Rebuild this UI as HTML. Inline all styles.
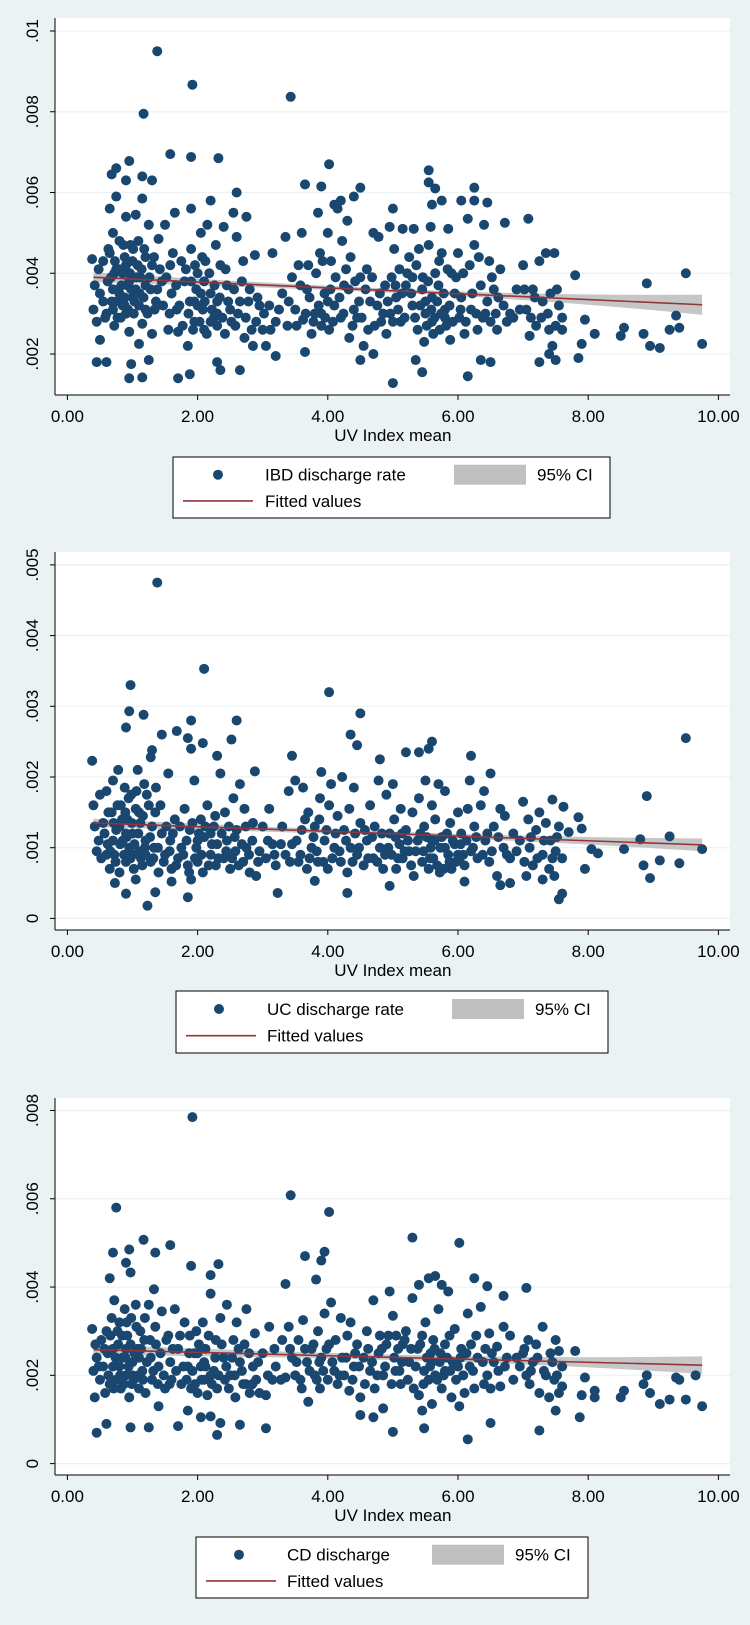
<!DOCTYPE html>
<html><head><meta charset="utf-8"><style>
html,body{margin:0;padding:0;background:#eaf2f3;}
svg{display:block;font-family:"Liberation Sans",Arial,sans-serif;}
</style></head><body>
<svg id="chart" width="750" height="1625" viewBox="0 0 750 1625" xmlns="http://www.w3.org/2000/svg">
<rect x="0" y="0" width="750" height="1625" fill="#eaf2f3"/>
</svg>
<script>
// ---- data (rates in units of 0.001) ----
const xTicks = [0,2,4,6,8,10];
const xTickLabels = ["0.00","2.00","4.00","6.00","8.00","10.00"];
const ibdTicks = [2,4,6,8,10];
const ibdTickLabels = [".002",".004",".006",".008",".01"];
const ucTicks = [0,1,2,3,4,5];
const ucTickLabels = ["0",".001",".002",".003",".004",".005"];
const cdTicks = [0,2,4,6,8];
const cdTickLabels = ["0",".002",".004",".006",".008"];
const ibdFit = [0.4,3.9,9.75,3.22];
const ucFit = [0.4,1.35,9.75,1.04];
const cdFit = [0.4,2.58,9.75,2.23];
const ibdCI = [0.12,0.05,0.25];
const ucCI = [0.06,0.03,0.09];
const cdCI = [0.12,0.06,0.2];

const ibdPoints = [[1.38,9.5],[1.92,8.67],[3.43,8.37],[1.17,7.95],[1.58,6.95],[1.9,6.88],[2.32,6.85],[0.95,6.78],[4.02,6.7],[0.75,6.6],[0.68,6.45],[1.15,6.4],[1.3,6.3],[0.9,6.3],[3.65,6.2],[3.9,6.15],[4.5,6.12],[5.55,6.55],[5.55,6.25],[5.65,6.1],[6.25,6.12],[2.6,6.0],[0.75,5.9],[1.15,5.85],[2.2,5.8],[4.1,5.7],[4.2,5.8],[4.4,5.9],[5.75,5.8],[6.05,5.8],[6.25,5.8],[6.45,5.75],[5.0,5.6],[5.6,5.7],[1.9,5.6],[0.65,5.6],
[0.45,1.8],[0.6,1.8],[0.95,1.4],[0.98,1.75],[1.15,1.42],[1.25,1.85],[1.7,1.4],[1.88,1.5],[2.3,1.8],[2.35,1.6],[2.65,1.6],[3.2,1.95],[3.65,2.05],[4.5,1.85],[5.0,1.28],[5.35,1.85],[5.45,1.55],[6.15,1.45],[6.35,1.85],[6.5,1.8],[7.25,1.8],[7.5,1.85],[7.85,1.9],[7.4,2.0],[4.7,2.0],
[7.8,3.95],[7.9,2.25],[7.95,2.85],[8.1,2.5],[8.5,2.45],[8.55,2.65],[8.85,2.5],[8.9,3.75],[8.95,2.2],[9.1,2.15],[9.25,2.6],[9.35,2.95],[9.4,2.65],[9.5,4.0],[9.75,2.25],[7.6,2.6],[7.45,2.2],
[0.38,4.35],[0.4,3.1],[0.45,2.8],[0.5,2.35],[0.5,3.5],[0.55,4.3],[0.6,3.0],[0.62,3.8],[0.65,4.5],[0.68,3.3],[0.7,5.0],[0.72,2.7],[0.75,4.1],[0.78,3.6],[0.8,4.8],[0.82,2.9],[0.85,3.2],[0.88,4.4],[0.9,5.4],[0.92,3.7],[0.95,2.55],[0.97,4.7],[1.0,3.4],[1.02,3.0],[1.05,5.45],[1.08,4.2],[1.1,2.25],[1.12,3.9],[1.15,2.75],[1.18,4.6],[1.2,3.1],[1.25,5.2],[1.28,3.6],[1.3,2.5],[1.33,4.4],[1.36,3.3],[1.4,4.85],[1.45,3.8],[1.5,5.2],[1.55,2.6],[1.58,4.2],[1.6,3.5],[1.65,5.5],[1.68,3.1],[1.7,2.55],[1.75,4.3],[1.8,3.8],[1.85,2.2],[1.88,3.3],[1.9,4.6],[1.95,2.8],[1.98,3.6],[2.0,4.0],[2.05,5.0],[2.08,3.1],[2.1,2.6],[2.12,4.3],[2.15,5.2],[2.2,3.5],[2.25,2.9],[2.28,4.7],[2.3,3.0],[2.35,4.2],[2.4,5.15],[2.42,2.5],[2.45,3.7],[2.5,3.1],[2.55,5.5],[2.58,2.7],[2.6,4.9],[2.65,3.3],[2.7,4.3],[2.72,2.4],[2.75,5.4],[2.8,3.6],[2.85,2.2],[2.88,4.45],[2.9,2.8],[2.95,3.2],[3.0,2.6],[3.05,2.2],[3.1,3.2],[3.15,4.5],[3.2,2.8],[3.3,3.5],[3.35,4.9],[3.38,2.7],[3.45,3.9],[3.5,3.1],[3.55,4.2],[3.6,5.0],[3.62,2.85],[3.68,3.6],[3.7,4.2],[3.75,2.5],[3.8,3.0],[3.85,5.5],[3.88,4.5],[3.9,2.7],[3.95,3.5],[4.0,5.0],[4.02,2.6],[4.05,4.3],[4.1,3.2],[4.15,5.6],[4.2,2.9],[4.22,4.8],[4.25,3.7],[4.3,5.3],[4.33,2.4],[4.35,4.4],[4.4,3.1],[4.45,2.9],[4.5,3.9],[4.55,2.2],[4.6,4.1],[4.65,3.3],[4.7,5.0],[4.72,2.7],[4.78,4.9],[4.8,3.5],[4.85,3.0],[4.9,2.5],[4.95,5.15],[4.98,3.9],[5.0,2.8],[5.02,4.6],[5.05,3.4],[5.1,4.1],[5.12,2.8],[5.15,5.1],[5.2,3.7],[5.25,4.4],[5.3,3.2],[5.32,5.1],[5.38,2.6],[5.4,4.6],[5.45,3.6],[5.48,2.3],[5.5,3.0],[5.55,4.7],[5.58,5.15],[5.6,3.4],[5.62,2.5],[5.65,4.0],[5.7,3.7],[5.72,2.6],[5.75,4.5],[5.8,3.1],[5.85,5.1],[5.88,2.35],[5.9,4.0],[5.95,3.5],[6.0,4.5],[6.02,2.9],[6.05,3.4],[6.1,2.5],[6.15,5.35],[6.18,4.2],[6.2,3.1],[6.25,4.7],[6.3,2.6],[6.35,3.7],[6.4,5.2],[6.42,3.0],[6.48,4.3],[6.5,2.8],[6.55,3.6],[6.6,2.6],[6.65,4.1],[6.7,3.2],[6.72,5.25],[6.8,3.0],[6.85,2.9],[6.9,3.6],[7.0,4.2],[7.05,3.1],[7.08,5.35],[7.1,2.45],[7.15,3.6],[7.2,2.7],[7.25,4.3],[7.3,3.3],[7.35,4.5],[7.4,2.6],[7.42,3.5],[7.48,4.5],[7.5,2.7],[7.55,3.2],[7.6,2.9],
[0.75,3.3],[0.8,3.5],[0.85,4.0],[0.9,3.0],[0.95,3.8],[1.0,4.3],[1.05,3.6],[1.1,3.2],[0.7,3.6],[0.72,4.0],[1.2,3.7],[0.88,3.2],[1.95,3.3],[2.05,3.5],[2.1,3.8],[2.2,2.8],[2.3,3.3],[5.5,3.3],[5.6,2.8],[5.8,2.9],[5.3,3.9],[4.0,3.3],[3.9,3.0],
[0.42,3.7],[0.48,4.1],[0.55,3.3],[0.58,2.9],[0.63,4.6],[0.67,3.9],[0.7,3.1],[0.73,4.3],[0.77,2.9],[0.8,4.1],[0.83,3.7],[0.86,4.7],[0.88,3.4],[0.9,4.2],[0.93,3.1],[0.96,4.0],[0.98,3.6],[1.01,4.6],[1.03,3.3],[1.06,3.9],[1.09,4.8],[1.11,3.5],[1.14,4.1],[1.17,3.4],[1.2,4.4],[1.23,3.0],[1.26,3.9],[1.3,4.2],[1.34,3.1],[1.38,3.6],[1.42,4.1],[1.47,3.2],[1.52,3.9],[1.57,3.0],[1.62,4.5],[1.67,3.7],[1.72,3.2],[1.77,2.7],[1.82,4.1],[1.86,3.0],[1.9,3.8],[1.93,2.6],[1.96,4.2],[2.0,3.2],[2.03,2.8],[2.07,4.4],[2.11,3.3],[2.14,2.5],[2.18,4.0],[2.22,3.1],[2.26,3.7],[2.3,2.7],[2.34,3.4],[2.38,2.9],[2.43,4.1],[2.47,3.3],[2.52,2.8],[2.56,3.6],[2.62,3.0],[2.68,3.8],[2.74,2.9],[2.78,3.3],[2.83,2.6],[2.92,3.4],[3.02,3.0],[3.12,2.6],[3.25,3.1],[3.4,3.3],[3.52,2.7],[3.58,3.7],[3.66,3.0],[3.72,3.4],[3.78,2.8],[3.82,4.0],[3.86,3.2],[3.92,4.3],[3.96,2.9],[4.04,3.6],[4.08,2.8],[4.12,3.9],[4.18,3.4],[4.24,3.0],[4.28,4.1],[4.32,3.6],[4.38,2.7],[4.42,3.8],[4.48,3.3],[4.52,2.9],[4.58,3.6],[4.62,2.6],[4.68,3.9],[4.76,3.2],[4.82,2.8],[4.88,3.7],[4.92,3.3],[4.96,3.0],[5.04,3.7],[5.08,3.1],[5.14,3.5],[5.18,2.9],[5.22,4.0],[5.28,3.5],[5.34,2.9],[5.36,4.2],[5.42,3.2],[5.46,3.9],[5.52,2.7],[5.54,3.8],[5.59,3.1],[5.64,2.9],[5.68,3.3],[5.71,4.3],[5.74,3.0],[5.78,3.5],[5.82,2.7],[5.84,4.1],[5.87,3.2],[5.92,2.8],[5.97,3.9],[6.04,3.1],[6.08,4.0],[6.12,2.8],[6.22,3.5],[6.28,3.0],[6.32,4.4],[6.38,2.9],[6.45,3.3],[6.52,3.9],[6.58,3.0],[6.62,3.4],[6.75,2.8],[6.95,3.1],[7.02,3.6],[7.12,2.9],[7.18,3.4],[7.28,2.9],[7.38,3.0],[7.52,3.6]];

const ucPoints = [[1.38,4.75],[2.1,3.53],[0.97,3.3],[4.02,3.2],[0.95,2.93],[1.17,2.88],[4.5,2.9],[0.9,2.7],[1.9,2.8],[2.6,2.8],[1.85,2.55],[2.08,2.48],[1.45,2.6],[1.68,2.65],[2.52,2.53],[4.35,2.6],[4.45,2.45],[5.6,2.5],[9.5,2.55],[1.3,2.38],[2.3,2.3],[3.45,2.3],[4.8,2.25],[5.2,2.35],[5.4,2.35],[5.55,2.4],[6.2,2.3],[1.9,2.4],[1.28,2.28],[0.38,2.23],[8.9,1.73],
[1.23,0.18],[0.9,0.35],[1.35,0.37],[1.85,0.3],[3.23,0.36],[4.3,0.36],[7.55,0.27],[7.6,0.35],[0.73,0.5],[3.8,0.53],[4.95,0.46],[6.1,0.52],[6.65,0.47],[6.8,0.5],[7.3,0.55],[8.95,0.57],[8.85,0.75],[9.1,0.82],[9.4,0.78],[7.95,0.7],[1.05,0.55],[1.6,0.52],
[7.9,1.27],[7.85,1.43],[8.05,0.98],[8.15,0.92],[8.55,0.98],[8.8,1.12],[9.25,1.16],[9.75,0.98],[7.7,1.22],[7.62,1.58],[7.45,1.68],
[0.4,1.6],[0.45,0.95],[0.5,1.75],[0.52,0.85],[0.55,1.35],[0.6,1.8],[0.62,1.05],[0.65,0.7],[0.68,1.5],[0.7,1.95],[0.72,0.9],[0.75,1.25],[0.78,2.1],[0.8,0.65],[0.82,1.6],[0.85,1.1],[0.88,1.85],[0.9,0.8],[0.92,1.4],[0.95,1.0],[0.98,1.75],[1.0,1.2],[1.02,0.7],[1.05,1.55],[1.08,2.1],[1.1,0.95],[1.12,1.35],[1.15,0.75],[1.18,1.9],[1.2,1.1],[1.25,1.6],[1.28,0.8],[1.3,1.3],[1.33,1.0],[1.36,1.85],[1.4,0.65],[1.45,1.2],[1.5,0.9],[1.55,2.05],[1.58,1.1],[1.6,0.7],[1.65,1.4],[1.7,0.85],[1.75,1.0],[1.8,1.55],[1.85,0.75],[1.88,1.25],[1.9,0.55],[1.95,1.95],[1.98,1.0],[2.0,0.8],[2.05,1.4],[2.08,0.65],[2.1,1.15],[2.15,1.6],[2.2,0.9],[2.25,1.3],[2.28,0.75],[2.3,1.05],[2.35,2.05],[2.4,0.85],[2.42,1.5],[2.45,1.1],[2.5,0.7],[2.55,1.7],[2.58,0.95],[2.6,1.25],[2.65,1.9],[2.7,0.8],[2.72,1.55],[2.75,1.0],[2.8,0.65],[2.85,1.35],[2.88,2.08],[2.9,0.6],[2.95,0.95],[3.0,1.3],[3.05,0.85],[3.1,1.55],[3.15,1.05],[3.2,0.75],[3.3,1.3],[3.35,0.9],[3.4,1.8],[3.45,1.05],[3.5,1.95],[3.55,0.8],[3.6,1.25],[3.62,1.85],[3.68,0.7],[3.7,1.5],[3.75,1.0],[3.8,1.3],[3.85,0.8],[3.88,1.7],[3.9,2.07],[3.95,1.1],[4.0,0.7],[4.02,1.6],[4.05,1.9],[4.1,1.0],[4.15,1.45],[4.2,0.8],[4.22,2.0],[4.25,1.25],[4.3,0.65],[4.33,1.55],[4.35,1.0],[4.4,1.85],[4.45,0.9],[4.5,1.35],[4.55,0.75],[4.6,1.1],[4.65,1.6],[4.7,0.85],[4.72,1.3],[4.78,1.95],[4.8,1.0],[4.85,0.7],[4.9,1.75],[4.95,1.2],[4.98,0.9],[5.0,1.9],[5.02,1.4],[5.05,0.7],[5.1,1.05],[5.12,1.55],[5.15,0.85],[5.2,1.25],[5.25,0.95],[5.3,1.5],[5.32,0.6],[5.38,1.1],[5.4,1.7],[5.45,0.8],[5.48,1.3],[5.5,1.95],[5.55,0.7],[5.58,1.0],[5.6,1.6],[5.62,0.85],[5.65,1.4],[5.7,1.9],[5.72,0.65],[5.75,1.15],[5.8,1.8],[5.85,0.9],[5.88,1.35],[5.9,0.7],[5.95,1.05],[6.0,1.5],[6.02,0.85],[6.05,1.2],[6.1,0.75],[6.15,1.55],[6.18,1.95],[6.2,0.95],[6.25,1.3],[6.3,0.85],[6.35,1.6],[6.4,1.8],[6.42,1.1],[6.48,0.8],[6.5,2.05],[6.55,1.3],[6.6,0.6],[6.65,1.55],[6.7,1.0],[6.72,1.45],[6.8,0.85],[6.85,1.2],[6.9,0.95],[7.0,1.65],[7.05,0.6],[7.08,1.4],[7.1,1.0],[7.15,0.75],[7.2,1.25],[7.25,1.5],[7.3,0.9],[7.35,1.35],[7.4,0.7],[7.42,1.1],[7.48,0.6],[7.5,0.95],[7.55,1.3],[7.6,0.85],
[0.8,1.3],[0.9,1.2],[1.0,0.9],[1.1,1.5],[0.7,1.1],[0.6,0.9],[1.2,0.9],[2.0,1.1],[2.2,1.2],[5.6,1.1],[5.8,1.0],[6.0,0.9],
[0.42,1.3],[0.48,1.1],[0.57,1.2],[0.63,1.5],[0.66,0.95],[0.71,1.35],[0.74,0.8],[0.77,1.6],[0.81,1.05],[0.84,1.4],[0.87,0.9],[0.89,1.5],[0.91,1.15],[0.94,1.7],[0.97,0.85],[0.99,1.35],[1.03,1.05],[1.06,1.8],[1.09,1.2],[1.13,0.85],[1.16,1.45],[1.19,1.0],[1.22,1.75],[1.27,1.15],[1.32,0.85],[1.35,1.5],[1.39,1.0],[1.43,1.6],[1.48,0.8],[1.52,1.3],[1.57,0.95],[1.62,1.2],[1.67,0.75],[1.73,1.3],[1.78,0.9],[1.83,1.1],[1.87,0.65],[1.92,1.35],[1.96,0.85],[2.02,1.2],[2.06,0.9],[2.12,1.3],[2.17,0.75],[2.22,1.05],[2.27,1.45],[2.32,0.85],[2.37,1.2],[2.44,0.95],[2.48,1.3],[2.53,0.85],[2.57,1.15],[2.63,0.75],[2.68,1.05],[2.74,1.3],[2.79,0.9],[2.84,1.1],[2.93,0.8],[3.08,1.1],[3.18,0.9],[3.28,1.05],[3.42,0.8],[3.52,1.1],[3.58,0.9],[3.65,1.4],[3.72,0.85],[3.78,1.15],[3.83,0.95],[3.87,1.4],[3.93,0.8],[3.98,1.25],[4.07,0.85],[4.12,1.2],[4.18,0.95],[4.28,1.1],[4.38,0.8],[4.42,1.2],[4.48,1.0],[4.57,1.25],[4.62,0.85],[4.68,1.15],[4.76,0.8],[4.83,1.2],[4.88,0.9],[4.93,1.0],[5.04,1.15],[5.08,0.85],[5.14,1.2],[5.18,0.95],[5.23,1.1],[5.28,0.75],[5.35,0.95],[5.42,1.2],[5.47,0.95],[5.52,1.15],[5.57,0.85],[5.64,1.1],[5.68,0.75],[5.73,1.0],[5.78,0.7],[5.83,1.2],[5.87,0.8],[5.92,1.1],[5.97,0.8],[6.04,1.05],[6.08,0.9],[6.13,1.1],[6.23,1.0],[6.28,1.15],[6.38,0.9],[6.45,1.2],[6.52,0.95],[6.62,1.15],[6.75,0.9],[6.95,1.1],[7.02,0.8],[7.12,1.15],[7.22,0.85],[7.32,1.1],[7.45,0.85],[7.52,1.15]];

const cdPoints = [[1.92,7.85],[3.43,6.08],[0.75,5.8],[4.02,5.7],[5.3,5.12],[6.02,5.0],[1.17,5.07],[1.58,4.95],[0.95,4.85],[0.7,4.78],[1.35,4.78],[1.9,4.48],[2.32,4.52],[3.65,4.7],[3.95,4.8],[3.9,4.6],[0.9,4.55],[0.97,4.33],[2.2,4.27],[0.65,4.2],[3.82,4.17],[3.35,4.07],[5.55,4.2],[5.65,4.25],[6.25,4.2],[6.45,4.02],[7.05,3.98],[5.4,4.05],[5.75,4.05],[6.7,3.8],
[0.45,0.7],[0.6,0.9],[0.97,0.82],[1.25,0.82],[1.7,0.85],[2.05,1.05],[2.2,1.07],[2.3,0.65],[2.35,0.92],[2.65,0.88],[3.05,0.8],[4.5,1.1],[4.7,1.05],[4.85,1.25],[5.0,0.72],[5.45,1.2],[5.48,0.8],[6.15,0.55],[6.5,0.92],[7.25,0.75],[7.5,1.2],[7.87,1.05],[1.85,1.2],[1.4,1.3],
[7.8,2.55],[7.9,1.55],[7.95,1.95],[8.1,1.65],[8.1,1.5],[8.5,1.5],[8.55,1.65],[8.85,1.8],[8.9,2.0],[8.95,1.6],[9.1,1.35],[9.25,1.45],[9.35,1.95],[9.4,1.9],[9.5,1.45],[9.65,2.0],[9.75,1.3],[7.6,1.75],[7.55,2.55],
[0.38,3.05],[0.4,2.1],[0.42,1.5],[0.45,2.4],[0.5,1.9],[0.52,2.8],[0.55,2.2],[0.58,1.6],[0.6,3.0],[0.62,2.5],[0.65,1.8],[0.68,3.3],[0.7,2.2],[0.72,3.7],[0.75,1.9],[0.78,2.7],[0.8,3.2],[0.82,1.7],[0.85,2.4],[0.88,3.5],[0.9,2.0],[0.92,2.9],[0.95,1.5],[0.98,3.3],[1.0,2.3],[1.02,1.9],[1.05,3.6],[1.08,2.6],[1.1,1.7],[1.12,3.0],[1.15,2.1],[1.18,2.8],[1.2,1.6],[1.25,3.6],[1.28,2.4],[1.3,1.9],[1.33,3.95],[1.36,2.7],[1.4,2.2],[1.45,3.45],[1.5,1.7],[1.55,2.9],[1.58,2.3],[1.6,1.9],[1.65,3.5],[1.7,2.6],[1.75,1.8],[1.8,3.2],[1.85,2.2],[1.88,2.9],[1.9,1.7],[1.95,2.5],[1.98,3.0],[2.0,1.6],[2.05,2.2],[2.08,3.2],[2.1,1.9],[2.12,2.6],[2.15,1.55],[2.2,3.85],[2.25,2.1],[2.28,2.8],[2.3,1.7],[2.35,3.3],[2.4,2.4],[2.42,1.9],[2.45,3.6],[2.5,2.0],[2.55,2.8],[2.58,1.5],[2.6,3.2],[2.65,2.3],[2.7,1.8],[2.72,2.7],[2.75,3.5],[2.8,1.6],[2.85,2.2],[2.88,2.95],[2.9,1.9],[2.95,1.6],[3.0,2.5],[3.05,1.55],[3.1,3.1],[3.15,1.9],[3.2,2.2],[3.3,2.8],[3.35,1.95],[3.4,3.1],[3.45,2.4],[3.5,2.0],[3.55,2.8],[3.6,1.7],[3.62,3.25],[3.68,2.3],[3.7,1.4],[3.75,2.6],[3.8,2.0],[3.85,3.0],[3.88,1.7],[3.9,2.4],[3.95,3.4],[4.0,1.9],[4.02,2.7],[4.05,3.65],[4.1,2.1],[4.15,1.8],[4.2,3.3],[4.22,2.4],[4.25,2.0],[4.3,2.9],[4.33,1.65],[4.35,3.2],[4.4,2.2],[4.45,2.7],[4.5,1.5],[4.55,2.4],[4.6,3.0],[4.65,2.1],[4.7,3.7],[4.72,1.7],[4.78,2.5],[4.8,2.9],[4.85,2.0],[4.9,2.7],[4.95,3.9],[4.98,1.8],[5.0,3.35],[5.02,2.4],[5.05,2.9],[5.1,2.1],[5.12,1.8],[5.15,2.7],[5.2,3.0],[5.25,2.3],[5.3,3.75],[5.32,1.7],[5.38,2.6],[5.4,1.55],[5.45,2.9],[5.48,2.1],[5.5,3.2],[5.55,1.9],[5.58,2.5],[5.6,1.35],[5.62,2.8],[5.65,2.0],[5.7,3.5],[5.72,2.3],[5.75,1.7],[5.8,2.7],[5.85,3.9],[5.88,2.1],[5.9,1.5],[5.95,3.05],[6.0,2.2],[6.02,1.3],[6.05,2.6],[6.1,1.6],[6.15,3.4],[6.18,2.2],[6.2,2.7],[6.25,1.7],[6.3,2.4],[6.35,3.55],[6.4,1.8],[6.42,2.6],[6.48,2.95],[6.5,1.7],[6.55,2.3],[6.6,2.65],[6.65,1.75],[6.7,3.1],[6.72,2.2],[6.8,2.9],[6.85,1.9],[6.9,2.4],[7.0,2.5],[7.05,2.0],[7.08,2.8],[7.1,1.8],[7.15,2.3],[7.2,2.7],[7.25,1.6],[7.3,3.1],[7.35,2.0],[7.4,1.5],[7.42,2.5],[7.48,1.9],[7.5,2.8],[7.55,1.6],[7.6,2.2],
[0.8,2.2],[0.9,2.6],[1.0,2.0],[1.1,2.4],[0.7,2.6],[2.0,2.5],[2.1,2.3],[2.2,2.0],[5.6,2.3],[5.8,2.1],
[0.43,2.7],[0.48,2.2],[0.57,2.6],[0.63,2.0],[0.66,2.9],[0.71,1.7],[0.74,2.4],[0.77,3.0],[0.81,2.0],[0.84,2.9],[0.87,1.8],[0.89,2.4],[0.91,3.2],[0.94,2.2],[0.97,2.7],[0.99,1.8],[1.03,2.5],[1.06,3.1],[1.09,2.0],[1.13,2.6],[1.16,1.9],[1.19,3.3],[1.22,2.3],[1.27,2.8],[1.32,2.1],[1.35,3.1],[1.39,1.8],[1.43,2.5],[1.48,2.0],[1.52,2.8],[1.57,1.8],[1.62,2.6],[1.67,2.1],[1.73,2.9],[1.78,2.2],[1.83,1.9],[1.87,2.5],[1.92,2.1],[1.96,1.8],[2.02,2.7],[2.06,1.9],[2.12,2.2],[2.17,2.9],[2.22,1.8],[2.27,2.4],[2.32,2.0],[2.37,2.7],[2.44,2.2],[2.48,1.7],[2.53,2.4],[2.57,2.0],[2.63,2.6],[2.68,2.1],[2.74,1.8],[2.79,2.5],[2.84,1.8],[2.93,2.3],[3.08,2.0],[3.18,2.6],[3.28,1.9],[3.42,2.6],[3.52,2.3],[3.58,1.9],[3.65,2.6],[3.72,2.1],[3.78,2.7],[3.83,1.9],[3.87,2.3],[3.93,2.1],[3.98,2.6],[4.07,2.3],[4.12,2.8],[4.18,2.0],[4.28,2.4],[4.38,1.9],[4.42,2.5],[4.48,2.2],[4.57,1.8],[4.62,2.6],[4.68,2.3],[4.76,2.0],[4.83,2.6],[4.88,2.2],[4.93,2.9],[5.04,2.1],[5.08,2.6],[5.14,2.3],[5.18,2.8],[5.23,1.9],[5.28,2.6],[5.35,2.2],[5.42,2.7],[5.47,1.8],[5.52,2.4],[5.57,2.2],[5.64,2.6],[5.68,1.9],[5.73,2.5],[5.78,2.0],[5.83,2.4],[5.87,2.9],[5.92,2.3],[5.97,1.9],[6.04,2.4],[6.08,2.0],[6.13,2.5],[6.23,2.1],[6.28,2.9],[6.38,2.3],[6.45,2.0],[6.52,2.5],[6.62,2.1],[6.75,2.4],[6.95,2.2],[7.02,2.6],[7.12,2.1],[7.22,2.4],[7.32,2.1],[7.45,2.3],[7.52,2.0]];

const svg = document.getElementById('chart');
const NS = 'http://www.w3.org/2000/svg';
function mk(tag, attrs, parent){
  const e = document.createElementNS(NS, tag);
  for (const k in attrs) e.setAttribute(k, attrs[k]);
  (parent||svg).appendChild(e);
  return e;
}

function drawPanel(c){
  const g = mk('g', {});
  
  
  const L=55, R=730;
  const xs = v => 67.4 + 65.1*v;
  const ys = v => c.y0px - (v - c.tick0)*c.pxPerUnit;
  const bg = mk('rect', {x:L, y:c.top, width:R-L, height:c.bottom-c.top, fill:'#ffffff'}, g);
  
  
  c.ticks.forEach((t,i)=>{
    const y = ys(t);
    const gl = mk('line', {x1:L, x2:R, y1:y, y2:y, stroke:'#eaf2f3', 'stroke-width':1.2}, g);
    
    
    mk('line', {x1:L-5, x2:L, y1:y, y2:y, stroke:'#000', 'stroke-width':1}, g);
    const tl = mk('text', {x:0, y:0, transform:`translate(38,${y}) rotate(-90)`, 'text-anchor':'middle', 'font-size':17, fill:'#000'}, g);
    tl.textContent = c.tickLabels[i];
    
    
  });
  const [fx0, fy0, fx1, fy1] = c.fit;
  const slope = (fy1-fy0)/(fx1-fx0);
  const fitAt = x => fy0 + slope*(x-fx0);
  const xm = (fx0+fx1)/2;
  const hw = x => { const t=(x-xm)/(fx1-xm); return x<xm ? c.ci[1]+(c.ci[0]-c.ci[1])*t*t : c.ci[1]+(c.ci[2]-c.ci[1])*t*t; };
  const up=[], lo=[];
  for (let i=0;i<=40;i++){ const x=fx0+(fx1-fx0)*i/40; up.push(`${xs(x)},${ys(fitAt(x)+hw(x))}`); lo.unshift(`${xs(x)},${ys(fitAt(x)-hw(x))}`); }
  const band = mk('polygon', {points: up.concat(lo).join(' '), fill:'#c0c0c0', 'fill-opacity':0.9}, g);
  
  
  c.points.forEach(p=>{
    const d = mk('circle', {cx:xs(p[0]), cy:ys(p[1]), r:5, fill:'#1a476f'}, g);
    
    
  });
  const fl = mk('line', {x1:xs(fx0), y1:ys(fy0), x2:xs(fx1), y2:ys(fy1), stroke:'#90353b', 'stroke-width':1.6}, g);
  
  
  mk('line', {x1:L, x2:L, y1:c.top, y2:c.bottom, stroke:'#000', 'stroke-width':1}, g);
  mk('line', {x1:L, x2:R, y1:c.bottom, y2:c.bottom, stroke:'#000', 'stroke-width':1}, g);
  xTicks.forEach((t,i)=>{
    const x = xs(t);
    mk('line', {x1:x, x2:x, y1:c.bottom, y2:c.bottom+5, stroke:'#000', 'stroke-width':1}, g);
    const tl = mk('text', {x:x, y:c.bottom+27, 'text-anchor':'middle', 'font-size':17, fill:'#000'}, g);
    tl.textContent = xTickLabels[i];
    
    
  });
  const xt = mk('text', {x:xs(5), y:c.bottom+46, 'text-anchor':'middle', 'font-size':17, fill:'#000'}, g);
  xt.textContent = 'UV Index mean';
  
  
  const lg = mk('g', {}, g);
  
  
  const b = c.legend;
  mk('rect', {x:b.x, y:b.y, width:b.w, height:b.h, fill:'#ffffff', stroke:'#000', 'stroke-width':1}, lg);
  const r1 = b.y + b.h*0.29, r2 = b.y + b.h*0.72;
  const m = mk('circle', {cx:b.x+b.mx, cy:r1, r:5, fill:'#1a476f'}, lg);
  
  
  const t1 = mk('text', {x:b.x+b.tx, y:r1+6, 'font-size':17, fill:'#000'}, lg);
  t1.textContent = c.label;
  
  
  const sw = mk('rect', {x:b.x+b.sx, y:r1-10, width:72, height:20, fill:'#c0c0c0'}, lg);
  
  
  const t2 = mk('text', {x:b.x+b.sx+83, y:r1+6, 'font-size':17, fill:'#000'}, lg);
  t2.textContent = '95% CI';
  
  
  const ll = mk('line', {x1:b.x+10, x2:b.x+80, y1:r2, y2:r2, stroke:'#90353b', 'stroke-width':1.6}, lg);
  
  
  const t3 = mk('text', {x:b.x+b.tx, y:r2+6, 'font-size':17, fill:'#000'}, lg);
  t3.textContent = 'Fitted values';
  
  
}

drawPanel({name:'ibd', top:18, bottom:395, y0px:354, tick0:2, pxPerUnit:40.375, ticks:ibdTicks, tickLabels:ibdTickLabels,
  points:ibdPoints, fit:ibdFit, ci:ibdCI, label:'IBD discharge rate',
  legend:{x:173, y:457, w:437, h:61, mx:45, tx:92, sx:281}});
drawPanel({name:'uc', top:552, bottom:930, y0px:918.4, tick0:0, pxPerUnit:70.7, ticks:ucTicks, tickLabels:ucTickLabels,
  points:ucPoints, fit:ucFit, ci:ucCI, label:'UC discharge rate',
  legend:{x:176, y:991, w:432, h:62, mx:43, tx:91, sx:276}});
drawPanel({name:'cd', top:1098, bottom:1475, y0px:1463.6, tick0:0, pxPerUnit:44.14, ticks:cdTicks, tickLabels:cdTickLabels,
  points:cdPoints, fit:cdFit, ci:cdCI, label:'CD discharge',
  legend:{x:196, y:1537, w:392, h:61, mx:43, tx:91, sx:236}});
</script>
</body></html>
